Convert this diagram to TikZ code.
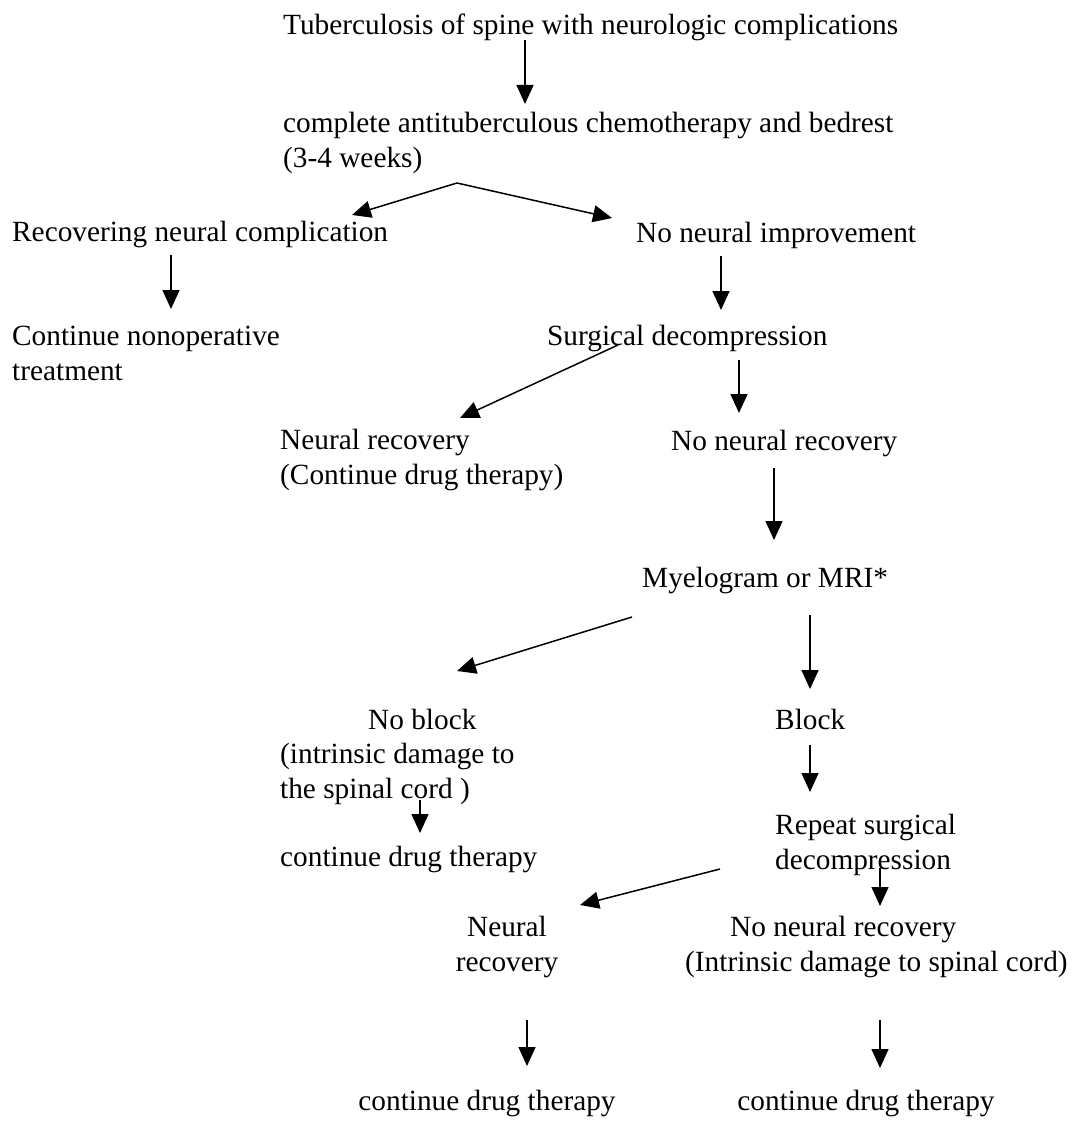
\documentclass[tikz,border=0pt]{standalone}
\usepackage{fontspec}
\setmainfont{Liberation Serif}
\usetikzlibrary{arrows.meta}

\begin{document}
\begin{tikzpicture}[
    x=1pt, y=-1pt,
    every node/.style={font=\fontsize{29.3}{34.5}\selectfont, inner sep=0pt},
    txt/.style={anchor=base west, align=left},
    ctr/.style={anchor=base, align=center},
    arr/.style={-{Triangle[length=19pt, width=17pt]}, line width=1.5pt},
  ]
  \useasboundingbox[fill=white] (0,0) rectangle (1073,1121);

  % texts (base = baseline of the last line)
  \node[txt] (tb)      at (283,35)    {Tuberculosis of spine with neurologic complications};
  \node[txt] (chemo)   at (283,167)   {complete antituberculous chemotherapy and bedrest\\(3-4 weeks)};
  \node[txt] (recov)   at (12,241)    {Recovering neural complication};
  \node[txt] (noimp)   at (636,242)   {No neural improvement};
  \node[txt] (nonop)   at (12,380)    {Continue nonoperative\\treatment};
  \node[txt] (surg)    at (547,345)   {Surgical decompression};
  \node[txt] (rec1)    at (280,484)   {Neural recovery\\(Continue drug therapy)};
  \node[txt] (norec1)  at (671,450)   {No neural recovery};
  \node[txt] (myelo)   at (642,587)   {Myelogram or MRI*};
  \node[txt] (noblock) at (280,798)   {\hspace*{88pt}No block\\(intrinsic damage to\\the spinal cord )};
  \node[txt] (block)   at (775,729)   {Block};
  \node[txt] (drug1)   at (280,866)   {continue drug therapy};
  \node[txt] (repeat)  at (775,869)   {Repeat surgical\\decompression};
  \node[ctr] (rec2)    at (507,971)   {Neural\\recovery};
  \node[txt] (norec2)  at (685,971)   {\hspace*{45pt}No neural recovery\\(Intrinsic damage to spinal cord)};
  \node[ctr] (drug2)   at (487,1110)  {continue drug therapy};
  \node[ctr] (drug3)   at (866,1110)  {continue drug therapy};

  % arrow ends
  \coordinate (tb-o)      at (525,40);
  \coordinate (chemo-i)   at (525,104);
  \coordinate (chemo-o)   at (457,183);
  \coordinate (recov-i)   at (352,215);
  \coordinate (noimp-i)   at (612,218);
  \coordinate (recov-o)   at (171,255);
  \coordinate (nonop-i)   at (171,309);
  \coordinate (noimp-o)   at (721,256);
  \coordinate (surg-i)    at (721,310);
  \coordinate (surg-o1)   at (618,345);
  \coordinate (rec1-i)    at (460,418);
  \coordinate (surg-o2)   at (739,360);
  \coordinate (norec1-i)  at (739,413);
  \coordinate (norec1-o)  at (774,468);
  \coordinate (myelo-i)   at (774,540);
  \coordinate (myelo-o1)  at (632,617);
  \coordinate (noblock-i) at (457,671);
  \coordinate (myelo-o2)  at (810,615);
  \coordinate (block-i)   at (810,689);
  \coordinate (noblock-o) at (420,800);
  \coordinate (drug1-i)   at (420,833);
  \coordinate (block-o)   at (810,745);
  \coordinate (repeat-i)  at (810,792);
  \coordinate (repeat-o1) at (720,869);
  \coordinate (rec2-i)    at (580,905);
  \coordinate (repeat-o2) at (880,868);
  \coordinate (norec2-i)  at (880,906);
  \coordinate (rec2-o)    at (527,1020);
  \coordinate (drug2-i)   at (527,1066);
  \coordinate (norec2-o)  at (880,1020);
  \coordinate (drug3-i)   at (880,1068);

  % arrows
  \draw[arr] (tb-o) -- (chemo-i);
  \draw[arr] (chemo-o) -- (recov-i);
  \draw[arr] (chemo-o) -- (noimp-i);
  \draw[arr] (recov-o) -- (nonop-i);
  \draw[arr] (noimp-o) -- (surg-i);
  \draw[arr] (surg-o1) -- (rec1-i);
  \draw[arr] (surg-o2) -- (norec1-i);
  \draw[arr] (norec1-o) -- (myelo-i);
  \draw[arr] (myelo-o1) -- (noblock-i);
  \draw[arr] (myelo-o2) -- (block-i);
  \draw[arr] (noblock-o) -- (drug1-i);
  \draw[arr] (block-o) -- (repeat-i);
  \draw[arr] (repeat-o1) -- (rec2-i);
  \draw[arr] (repeat-o2) -- (norec2-i);
  \draw[arr] (rec2-o) -- (drug2-i);
  \draw[arr] (norec2-o) -- (drug3-i);
\end{tikzpicture}
\end{document}
